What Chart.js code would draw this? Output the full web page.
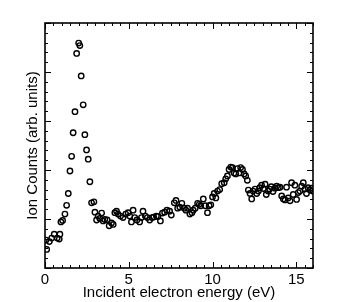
<!DOCTYPE html>
<html>
<head>
<meta charset="utf-8">
<script src="https://cdn.jsdelivr.net/npm/chart.js@4/dist/chart.umd.min.js"></script>
<style>
  html, body { margin: 0; padding: 0; background: #fff; }
  #wrap { width: 346px; height: 302px; }
</style>
</head>
<body>
<div id="wrap"><canvas id="c" width="346" height="302"></canvas></div>
<script>
// incident electron energy (eV)
const energy = [
  0.06, 0.10, 0.26, 0.40, 0.55, 0.73, 0.85, 0.89, 0.95, 1.05,
  1.19, 1.29, 1.39, 1.49, 1.59, 1.68, 1.79, 1.89, 2.01, 2.08,
  2.16, 2.28, 2.38, 2.48, 2.58, 2.68, 2.78, 2.92, 2.98, 3.08,
  3.17, 3.27, 3.38, 3.47, 3.57, 3.71, 3.83, 3.97, 4.07, 4.17,
  4.27, 4.36, 4.51, 4.66, 4.82, 4.96, 5.06, 5.16, 5.26, 5.36,
  5.49, 5.65, 5.76, 5.85, 5.99, 6.11, 6.25, 6.39, 6.49, 6.65,
  6.74, 6.89, 7.01, 7.14, 7.28, 7.44, 7.54, 7.72, 7.82, 7.92,
  8.05, 8.17, 8.32, 8.41, 8.51, 8.65, 8.77, 8.85, 8.97, 9.11,
  9.21, 9.30, 9.45, 9.57, 9.70, 9.80, 9.90, 10.00, 10.10, 10.20,
  10.30, 10.43, 10.55, 10.70, 10.79, 10.89, 10.99, 11.09, 11.19, 11.29,
  11.39, 11.49, 11.59, 11.68, 11.79, 11.89, 11.98, 12.08, 12.14, 12.24,
  12.34, 12.42, 12.54, 12.64, 12.74, 12.82, 12.93, 13.04, 13.14, 13.21,
  13.32, 13.41, 13.51, 13.61, 13.73, 13.83, 13.93, 14.03, 14.13, 14.23,
  14.33, 14.42, 14.52, 14.63, 14.72, 14.82, 14.92, 15.02, 15.12, 15.22,
  15.32, 15.42, 15.52, 15.61, 15.71, 15.82, 15.91, 15.98
];

// ion counts (arb. units)
const counts = [
  0.57, 0.38, 0.54, 0.61, 0.69, 0.61, 0.59, 0.69, 0.94, 0.97,
  1.10, 1.28, 1.52, 1.98, 2.28, 2.76, 3.19, 4.38, 4.59, 4.54,
  3.92, 3.33, 2.72, 2.41, 2.22, 1.76, 1.33, 1.35, 1.14, 0.98,
  1.06, 1.01, 1.12, 0.96, 0.99, 0.98, 0.86, 0.92, 0.89, 1.13,
  1.16, 1.10, 1.06, 1.03, 1.10, 1.13, 1.06, 0.94, 1.18, 1.03,
  0.98, 0.94, 1.03, 1.16, 1.06, 1.03, 0.98, 1.03, 1.04, 1.06,
  1.05, 0.96, 1.12, 1.14, 1.18, 1.16, 1.08, 1.33, 1.38, 1.22,
  1.24, 1.32, 1.22, 1.18, 1.22, 1.10, 1.13, 1.18, 1.22, 1.32,
  1.30, 1.27, 1.41, 1.27, 1.13, 1.27, 1.29, 1.45, 1.52, 1.43,
  1.57, 1.60, 1.72, 1.74, 1.82, 1.88, 2.01, 2.06, 2.05, 1.94,
  1.92, 2.03, 1.94, 2.05, 2.01, 1.92, 1.88, 1.79, 1.59, 1.52,
  1.41, 1.57, 1.61, 1.52, 1.57, 1.64, 1.69, 1.62, 1.71, 1.50,
  1.57, 1.61, 1.66, 1.56, 1.63, 1.67, 1.64, 1.65, 1.47, 1.41,
  1.39, 1.65, 1.43, 1.37, 1.74, 1.50, 1.69, 1.40, 1.54, 1.57,
  1.67, 1.74, 1.61, 1.52, 1.64, 1.59, 1.63, 1.57
];

const xTicks = [0, 5, 10, 15];
const xRange = [0, 16];
const yRange = [0, 5];

const font = 'Liberation Sans, Arial, Helvetica, sans-serif';

// frame + inward ticks on all four sides
const frameTicks = {
  id: 'frameTicks',
  afterDraw(chart) {
    const { ctx, chartArea: a, scales } = chart;
    const xs = scales.x, ys = scales.y;
    ctx.save();
    ctx.strokeStyle = '#000';
    ctx.lineWidth = 1.6;
    ctx.strokeRect(a.left, a.top, a.right - a.left, a.bottom - a.top);
    ctx.lineWidth = 1;
    ctx.beginPath();
    for (let v = xRange[0]; v <= xRange[1] + 1e-9; v += 0.5) {
      const px = Math.round(xs.getPixelForValue(v)) + 0.5;
      const len = Math.abs(v % 5) < 1e-6 ? 6 : 3;
      ctx.moveTo(px, a.bottom); ctx.lineTo(px, a.bottom - len);
      ctx.moveTo(px, a.top); ctx.lineTo(px, a.top + len);
    }
    for (let v = yRange[0]; v <= yRange[1] + 1e-9; v += 0.2) {
      const py = Math.round(ys.getPixelForValue(v)) + 0.5;
      const len = Math.abs(v - Math.round(v)) < 1e-6 ? 6 : 3;
      ctx.moveTo(a.left, py); ctx.lineTo(a.left + len, py);
      ctx.moveTo(a.right, py); ctx.lineTo(a.right - len, py);
    }
    ctx.stroke();
    ctx.restore();
  }
};

new Chart(document.getElementById('c'), {
  type: 'scatter',
  data: {
    datasets: [{
      data: energy.map((e, i) => ({ x: e, y: counts[i] })),
      pointStyle: 'circle',
      pointRadius: 2.7,
      pointBorderWidth: 1.4,
      pointBorderColor: '#000',
      pointBackgroundColor: 'rgba(255,255,255,0)'
    }]
  },
  plugins: [frameTicks],
  options: {
    responsive: false,
    animation: false,
    layout: { padding: { top: 23, right: 33, left: 0, bottom: 0 } },
    plugins: { legend: { display: false }, tooltip: { enabled: false } },
    scales: {
      x: {
        type: 'linear',
        min: xRange[0],
        max: xRange[1],
        afterBuildTicks: s => { s.ticks = xTicks.map(v => ({ value: v })); },
        afterFit: s => { s.height = 34; },
        grid: { display: false, drawTicks: false },
        border: { display: false },
        ticks: {
          color: '#000',
          padding: 3,
          font: { family: font, size: 15 }
        },
        title: {
          display: true,
          text: 'Incident electron energy (eV)',
          color: '#000',
          padding: 0,
          font: { family: font, size: 15 }
        }
      },
      y: {
        type: 'linear',
        min: yRange[0],
        max: yRange[1],
        afterFit: s => { s.width = 45; },
        grid: { display: false, drawTicks: false },
        border: { display: false },
        ticks: { display: false },
        title: {
          display: true,
          text: 'Ion Counts (arb. units)',
          color: '#000',
          padding: { top: 24, bottom: 0 },
          font: { family: font, size: 15 }
        }
      }
    }
  }
});
</script>
</body>
</html>
